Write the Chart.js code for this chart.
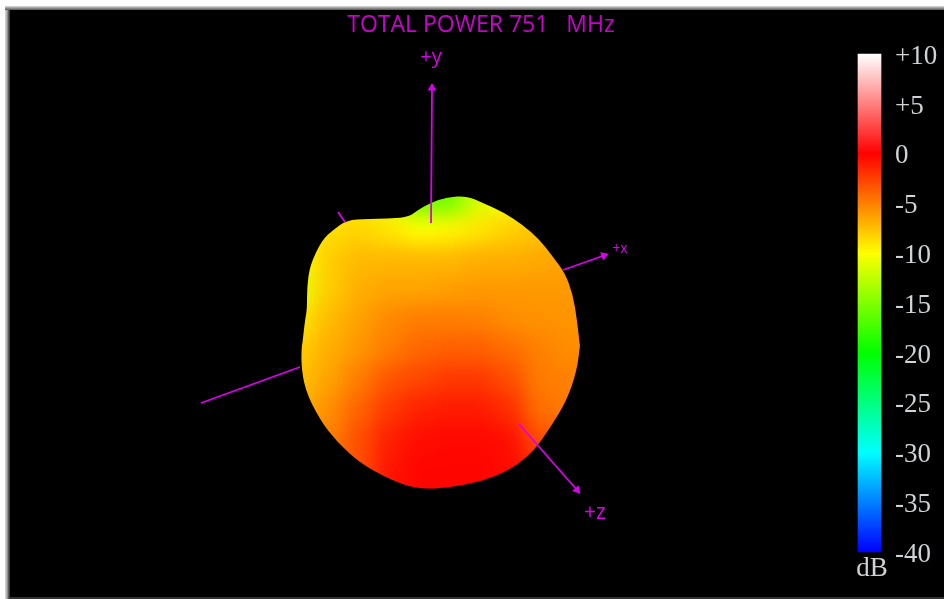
<!DOCTYPE html>
<html><head><meta charset="utf-8">
<style>
html,body{margin:0;padding:0;background:#fff;overflow:hidden;width:944px;height:599px}
#frame{position:absolute;left:5px;top:6px;width:939px;height:593px;background:linear-gradient(to right,#ddd 0,#aaa 2px,#444 4px,#333 5px)}
#frame:after{content:"";position:absolute;left:0;right:0;top:0;height:4px;background:linear-gradient(to bottom,#ddd,#555)}
#c{position:absolute;left:10px;top:10px;background:#000;display:block;z-index:2}
</style>
<script src="https://cdn.jsdelivr.net/npm/chart.js@4"></script>
</head><body>
<div id="frame"></div>
<canvas id="c" width="934" height="587"></canvas>
<script>
// ---- text ----
const titleText = "TOTAL POWER 751   MHz";
const dbTicks = [10,5,0,-5,-10,-15,-20,-25,-30,-35,-40];
const dbTickLabels = ["+10","+5","0","-5","-10","-15","-20","-25","-30","-35","-40"];
const barRange = [-40,10];
const barCentre = 869.5;

// ---- colour scale (dB -> colour) ----
const colourDb  = [-40,-35,-30,-25,-20,-15,-10,-5,0,5,10];
const colourRgb = [[0,0,255],[0,128,255],[0,255,255],[0,255,128],[0,255,0],[128,255,0],[255,255,0],[255,128,0],[255,0,0],[255,128,128],[255,255,255]];

// ---- surface gain, in dB, on a coarse view grid ----
const cellX = [270,300,330,360,390,420,450,480,510,540,570,600];
const cellY = [170,200,230,260,290,320,350,380,410,440,470,500,530];
const gainDb = [
 [-9,-9,-9,-10,-12,-16,-15,-11,-9,-8,-8,-8],
 [-9,-9,-9,-9.5,-11,-16,-15.5,-11.5,-10,-9,-8,-8],
 [-9.3,-9.3,-8.7,-8.3,-9,-10,-9.7,-9,-8.2,-7.7,-7.3,-7.3],
 [-10,-10,-8,-7.3,-7.2,-7.2,-7.2,-6.8,-6.8,-6.6,-6.3,-6.3],
 [-11,-11,-8,-6.8,-6.4,-6.4,-6.2,-6,-6,-6,-6,-6],
 [-9,-9,-7.3,-6.3,-5.3,-4.9,-4.9,-5,-5.5,-5.7,-5.8,-5.8],
 [-8,-8,-6.8,-5.8,-4.8,-4,-3.7,-3.7,-4.2,-5,-5.5,-5.5],
 [-7.5,-7.5,-6.3,-4.8,-3.3,-2.7,-2.2,-2.2,-3,-4.8,-5,-5],
 [-7,-7,-5.5,-3.8,-2.2,-1.3,-1,-1,-1.8,-4.3,-4.8,-4.8],
 [-6,-6,-5,-3,-1.2,-0.5,-0.3,-0.3,-0.6,-3,-3.8,-3.8],
 [-5,-5,-4.5,-3,-0.8,-0.2,-0.2,-0.2,-0.4,-1.5,-3,-3],
 [-5,-5,-4.5,-3,-0.8,-0.2,-0.2,-0.2,-0.4,-1.5,-3,-3],
 [-5,-5,-4.5,-3,-0.8,-0.2,-0.2,-0.2,-0.4,-1.5,-3,-3]
];

// ---- silhouette of the pattern ----
const outlineX = [407,418,430,447,467,483,503,523,540,553,565,573,577,580,580,577,567,550,533,510,480,450,430,410,387,360,337,320,305,301,302,302,305,307,307,310,322,333,347,367,407];
const outlineY = [218,210,203,197,196,203,212,225,240,257,273,295,320,347,345,370,400,428,452,470,482,487,489,487,478,463,442,420,390,363,343,347,320,310,287,265,240,230,220,219,218];

// ---- axes of the 3D view ----
const axisPlusY  = [{x:431,y:223},{x:432,y:88}];
const axisPlusX  = [{x:563,y:270},{x:604,y:255.5}];
const axisPlusZ  = [{x:519,y:424},{x:577,y:490}];
const axisMinusX = [{x:201,y:403},{x:300,y:367}];
const axisMinusZ = [{x:338,y:212},{x:345,y:222}];
const axisLabels = ["+y","+x","+z"];
const axisLabelX = [431,620,595];
const axisLabelY = [57,249,513];
const axisLabelSize = [20,14,21];

const MAGENTA = "#dc00ee";
const GREY = "#cfd3d6";
const LABEL_NUDGE_DB = 0.27;   // tick text sits a little below its colour on the bar

function gainColour(db){
  let i = 0;
  while(i < colourDb.length-2 && db > colourDb[i+1]) i++;
  const t = Math.min(1,Math.max(0,(db-colourDb[i])/(colourDb[i+1]-colourDb[i])));
  const a = colourRgb[i], b = colourRgb[i+1];
  return `rgb(${a.map((v,k)=>Math.round(v+(b[k]-v)*t)).join(",")})`;
}
const cells = [];
cellY.forEach((y,r)=>cellX.forEach((x,c)=>cells.push({x,y,db:gainDb[r][c]})));

function axisDs(data, rotation){
  return {type:"line",data,order:1,borderColor:MAGENTA,borderWidth:1.8,tension:0,fill:false,
    backgroundColor:MAGENTA,pointBorderWidth:0,pointHoverRadius:0,
    pointStyle:"triangle",pointRotation:rotation||0,
    pointRadius:rotation===undefined?0:[0,5]};
}

// Softens the coarse gain cells into the smooth surface and trims them to the silhouette.
const surfacePlugin = {
  id:"surface",
  afterDatasetDraw(chart,args){
    if(args.index!==0) return;
    const {ctx,canvas,chartArea:a} = chart;
    const tmp = document.createElement("canvas");
    tmp.width = canvas.width; tmp.height = canvas.height;
    tmp.getContext("2d").drawImage(canvas,0,0);
    const pts = chart.getDatasetMeta(1).data;
    ctx.save();
    ctx.clearRect(a.left,a.top,a.right-a.left,a.bottom-a.top);
    ctx.beginPath();
    const n = pts.length-1;
    ctx.moveTo((pts[0].x+pts[1].x)/2,(pts[0].y+pts[1].y)/2);
    for(let i=1;i<=n;i++){
      const p=pts[i], q=pts[i===n?1:i+1];
      ctx.quadraticCurveTo(p.x,p.y,(p.x+q.x)/2,(p.y+q.y)/2);
    }
    ctx.closePath();
    ctx.clip();
    ctx.filter = "blur(10px)";
    ctx.drawImage(tmp,0,0);
    ctx.restore();
  },
  afterDatasetsDraw(chart){
    const {ctx,scales:{x,y}} = chart;
    ctx.save();
    ctx.textAlign="center"; ctx.textBaseline="middle";
    ctx.fillStyle=MAGENTA;
    axisLabels.forEach((t,i)=>{
      ctx.font=`${axisLabelSize[i]}px "Open Sans"`;
      ctx.fillText(t,x.getPixelForValue(axisLabelX[i]),y.getPixelForValue(axisLabelY[i]));
    });
    ctx.fillStyle=GREY;
    ctx.font='27px "Liberation Serif"';
    ctx.fillText("dB",x.getPixelForValue(872),y.getPixelForValue(569));
    ctx.restore();
  }
};

new Chart(document.getElementById("c"),{
  type:"scatter",
  data:{datasets:[
    {type:"scatter",data:cells,order:10,pointStyle:"rect",pointRadius:22,pointBorderWidth:0,pointHoverRadius:22,
      backgroundColor:c=>c.raw?gainColour(c.raw.db):"#000"},
    {type:"line",data:outlineX.map((x,i)=>({x,y:outlineY[i]})),order:9,borderWidth:0,borderColor:"rgba(0,0,0,0)",
      pointRadius:0,fill:false,tension:0},
    {type:"bar",data:[{x:barCentre,y:barRange}],yAxisID:"db",order:5,barThickness:23,borderWidth:0,
      backgroundColor(c){
        const s=c.chart.scales.db;
        if(!s) return "#f00";
        const y0=s.getPixelForValue(-40), y1=s.getPixelForValue(10);
        if(!isFinite(y0)||!isFinite(y1)) return "#f00";
        const g=c.chart.ctx.createLinearGradient(0,y0,0,y1);
        colourDb.forEach((d,i)=>g.addColorStop((d+40)/50,gainColour(d)));
        return g;
      }},
    axisDs(axisMinusX),
    axisDs(axisMinusZ),
    axisDs(axisPlusY,0),
    axisDs(axisPlusX,70),
    axisDs(axisPlusZ,139)
  ]},
  options:{
    responsive:false,animation:false,events:[],
    layout:{autoPadding:false,padding:{left:8,top:0,right:0,bottom:0}},
    plugins:{
      legend:{display:false},tooltip:{enabled:false},
      title:{display:true,text:titleText,color:"#cc00d0",
        font:{family:'"Open Sans"',size:23,weight:"normal",lineHeight:1.2},
        padding:{top:1.7,bottom:0.7}}
    },
    scales:{
      x:{type:"linear",min:18,max:890,display:false,offset:false,grid:{display:false,offset:false}},
      y:{type:"linear",min:40,max:597,reverse:true,display:false},
      db:{type:"linear",position:"right",min:-44.52,max:11.41,
        grid:{display:false,drawTicks:false},border:{display:false},
        afterFit(s){s.width=54;s.paddingTop=0;s.paddingBottom=0;s.paddingLeft=0;s.paddingRight=0;},
        afterBuildTicks(s){s.ticks=dbTicks.map(v=>({value:v-LABEL_NUDGE_DB}));},
        ticks:{color:GREY,padding:5,autoSkip:false,font:{family:'"Liberation Serif"',size:27},
          callback:(v,i)=>dbTickLabels[i]}
      }
    }
  },
  plugins:[surfacePlugin]
});
</script>
</body></html>
